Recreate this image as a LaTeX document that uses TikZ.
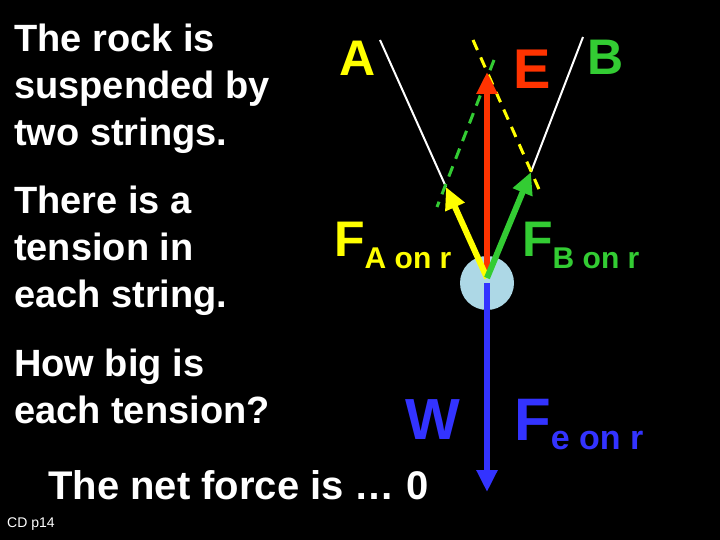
\documentclass[tikz,border=0pt]{standalone}
\usepackage{fontspec}
\setmainfont{Liberation Sans}
\usetikzlibrary{arrows.meta,positioning}
\definecolor{RockBlue}{HTML}{ADD8E6}
\definecolor{ArrowRed}{HTML}{FF3300}
\definecolor{ArrowGreen}{HTML}{33CC33}
\definecolor{ArrowYellow}{HTML}{FFFF00}
\definecolor{ArrowBlue}{HTML}{3333FF}
\tikzset{
  txt/.style={text=white,font=\bfseries\fontsize{38}{47}\selectfont,align=left,anchor=north west,inner sep=0pt},
  vec/.style={line width=6pt,-{Triangle[length=22pt,width=20pt]}},
  lbl/.style={font=\bfseries\fontsize{50}{50}\selectfont,inner sep=0pt}
}
\begin{document}
\begin{tikzpicture}[x=1pt,y=-1pt]
  \fill[black] (0,0) rectangle (720,540);
  \useasboundingbox (0,0) rectangle (720,540);
  % left text
  \node[txt] (t1) at (14,24) {The rock is\\suspended by\\two strings.};
  \node[txt] (t2) at (14,186) {There is a\\tension in\\each string.};
  \node[txt] (t3) at (14,349) {How big is\\each tension?};
  \node[txt,anchor=west,font=\bfseries\fontsize{40}{47}\selectfont] (net) at (48,485) {The net force is \dots\ 0};
  \node[text=white,font=\fontsize{14}{14}\selectfont,anchor=west,inner sep=0pt] (cd) at (7,524) {CD p14};
  % rock and strings
  \node[circle,fill=RockBlue,minimum size=54pt,inner sep=0pt] (rock) at (487,283) {};
  \coordinate (o) at (487,278);
  \coordinate (sa) at (380,40);
  \coordinate (sb) at (583,37);
  \coordinate (ha) at (446,187);
  \coordinate (hb) at (531,172);
  \coordinate (he) at (487,72);
  \coordinate (hw) at (487,492);
  \draw[white,line width=2pt] (sa) -- (ha);
  \draw[white,line width=2pt] (sb) -- (hb);
  % parallelogram
  \draw[ArrowYellow,line width=3pt,dash pattern=on 11pt off 8pt] (473,40) -- (542,196);
  \draw[ArrowGreen,line width=3pt,dash pattern=on 11pt off 8pt] (494,60) -- (437,207);
  % vectors
  \draw[vec,ArrowBlue] (rock.center) -- (hw);
  \draw[vec,ArrowRed] (o) -- (he);
  \draw[vec,ArrowYellow] (o) -- (ha);
  \draw[vec,ArrowGreen] (o) -- (hb);
  % labels
  \node[lbl,text=ArrowYellow] (la) at (358,58) {A};
  \node[lbl,text=ArrowRed,font=\bfseries\fontsize{56}{56}\selectfont] (le) at (532,69) {E};
  \node[lbl,text=ArrowGreen] (lb) at (606,57) {B};
  \node[lbl,text=ArrowYellow,anchor=base west] (fa) at (334,256) {F\textsubscript{\normalfont\bfseries\fontsize{30}{30}\selectfont A on r}};
  \node[lbl,text=ArrowGreen,anchor=base west] (fb) at (522,256) {F\textsubscript{\normalfont\bfseries\fontsize{30}{30}\selectfont B on r}};
  \node[lbl,text=ArrowBlue,font=\bfseries\fontsize{58}{58}\selectfont] (lw) at (433,420) {W};
  \node[lbl,text=ArrowBlue,anchor=base west,font=\bfseries\fontsize{60}{60}\selectfont] (fe) at (514,440) {F\textsubscript{\normalfont\bfseries\fontsize{34}{34}\selectfont e on r}};
\end{tikzpicture}
\end{document}
